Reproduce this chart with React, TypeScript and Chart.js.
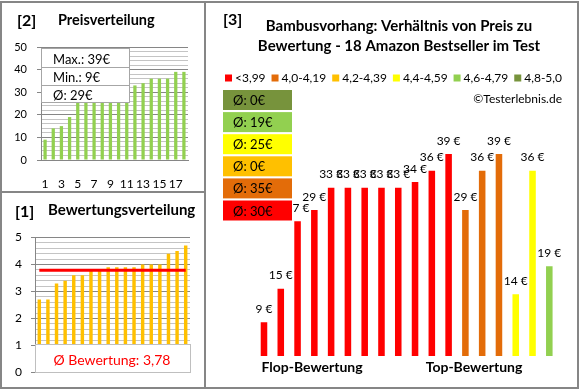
import React, { useEffect, useRef } from 'react';
import { Chart, registerables } from 'chart.js';

Chart.register(...registerables);

// ---------- data ----------
const productNumbers = ['1', '2', '3', '4', '5', '6', '7', '8', '9', '10', '11', '12', '13', '14', '15', '16', '17', '18'];
// ratings in ascending order (Flop -> Top)
const ratings = [2.7, 2.7, 3.3, 3.4, 3.6, 3.6, 3.8, 3.8, 3.9, 3.9, 3.9, 3.9, 4.0, 4.0, 4.0, 4.4, 4.5, 4.7];
// prices in the same order as ratings
const prices = [9, 15, 27, 29, 33, 33, 33, 33, 33, 34, 36, 39, 29, 36, 39, 14, 36, 19];
const priceTickLabels = [0, 10, 20, 30, 40, 50];
const ratingTickLabels = [0, 1, 2, 3, 4, 5];
const bandLabels = ['<3,99', '4,0-4,19', '4,2-4,39', '4,4-4,59', '4,6-4,79', '4,8-5,0'];
const bandUpper = [4.0, 4.2, 4.4, 4.6, 4.8, 5.01];
const bandColors = ['#FF0000', '#E36C09', '#FFC000', '#FFFF00', '#92D050', '#77933C'];
const mainTitle = ['Bambusvorhang: Verhältnis von Preis zu', 'Bewertung - 18 Amazon Bestseller im Test'];

// ---------- derived ----------
const FONT = 'Lato, "Open Sans", sans-serif';
const sortedPrices = [...prices].sort((a, b) => a - b);
const bandIndex = (r: number) => bandUpper.findIndex((u) => r < u - 1e-9);
const barColors = ratings.map((r) => bandColors[bandIndex(r)]);
const avgRating = ratings.reduce((a, b) => a + b, 0) / ratings.length;
const maxPrice = Math.max(...prices);
const minPrice = Math.min(...prices);
const avgPrice = Math.round(prices.reduce((a, b) => a + b, 0) / prices.length);
const bandAvg = bandLabels.map((_, b) => {
  const p = prices.filter((_, i) => bandIndex(ratings[i]) === b);
  return p.length ? Math.round(p.reduce((a, c) => a + c, 0) / p.length) : 0;
});

const MAJOR = '#868686';
const MINOR = '#c4c4c4';
const isInt = (v: number) => Math.abs(v - Math.round(v)) < 1e-6;

// ---------- plugins ----------
const pricePlugin = {
  id: 'priceDecor',
  afterDraw(chart: any) {
    const ctx = chart.ctx as CanvasRenderingContext2D;
    ctx.save();
    ctx.fillStyle = '#000';
    ctx.textBaseline = 'middle';
    ctx.textAlign = 'left';
    ctx.font = `bold 16px ${FONT}`;
    ctx.fillText('[2]', 17, 21);
    ctx.textBaseline = 'alphabetic';
    ctx.font = `bold 14.5px ${FONT}`;
    ctx.fillText('Preisverteilung', 58, 25);
    // stats box
    const x = 41.5, y = 48.5, w = 88, h = 54;
    ctx.fillStyle = '#fff';
    ctx.fillRect(x, y, w, h);
    ctx.strokeStyle = '#a6a6a6';
    ctx.lineWidth = 1;
    ctx.strokeRect(x, y, w, h);
    ctx.beginPath();
    ctx.moveTo(x, 67.5); ctx.lineTo(x + w, 67.5);
    ctx.moveTo(x, 85.5); ctx.lineTo(x + w, 85.5);
    ctx.stroke();
    ctx.fillStyle = '#000';
    ctx.font = `13px ${FONT}`;
    ctx.fillText(`Max.: ${maxPrice}€`, 53, 63.5);
    ctx.fillText(`Min.: ${minPrice}€`, 53, 82);
    ctx.fillText(`Ø: ${avgPrice}€`, 53, 99.5);
    ctx.restore();
  },
};

const ratingPlugin = {
  id: 'ratingDecor',
  afterDraw(chart: any) {
    const ctx = chart.ctx as CanvasRenderingContext2D;
    ctx.save();
    ctx.fillStyle = '#000';
    ctx.textBaseline = 'middle';
    ctx.textAlign = 'left';
    ctx.font = `bold 16px ${FONT}`;
    ctx.fillText('[1]', 15, 212);
    ctx.textBaseline = 'alphabetic';
    ctx.font = `bold 15px ${FONT}`;
    ctx.fillText('Bewertungsverteilung', 48, 215);
    // average box
    ctx.fillStyle = '#fff';
    ctx.fillRect(35.5, 344.5, 155, 28);
    ctx.strokeStyle = '#bfbfbf';
    ctx.lineWidth = 1;
    ctx.strokeRect(35.5, 344.5, 155, 28);
    ctx.fillStyle = '#FF0000';
    ctx.textAlign = 'center';
    ctx.font = `14px ${FONT}`;
    ctx.fillText(`Ø Bewertung: ${avgRating.toFixed(2).replace('.', ',')}`, 112, 365);
    ctx.restore();
  },
};

const mainPlugin = {
  id: 'mainDecor',
  afterDatasetsDraw(chart: any) {
    const ctx = chart.ctx as CanvasRenderingContext2D;
    const meta = chart.getDatasetMeta(0);
    ctx.save();
    ctx.fillStyle = '#000';
    ctx.font = `12px ${FONT}`;
    ctx.textAlign = 'center';
    ctx.textBaseline = 'alphabetic';
    meta.data.forEach((el: any, i: number) => {
      ctx.fillText(`${prices[i]} €`, el.x, el.y - 9.5);
    });
    ctx.restore();
  },
  afterDraw(chart: any) {
    const ctx = chart.ctx as CanvasRenderingContext2D;
    ctx.save();
    ctx.fillStyle = '#000';
    ctx.textAlign = 'left';
    ctx.textBaseline = 'middle';
    ctx.font = `bold 16px ${FONT}`;
    ctx.fillText('[3]', 223, 20);
    // title
    ctx.textBaseline = 'alphabetic';
    ctx.textAlign = 'center';
    ctx.font = `bold 15px ${FONT}`;
    ctx.fillText(mainTitle[0], 399, 30.5);
    ctx.fillText(mainTitle[1], 399, 50.5);
    // legend
    ctx.font = `12px ${FONT}`;
    ctx.textAlign = 'left';
    const sq = 7, gapSq = 3;
    const widths = bandLabels.map((l) => ctx.measureText(l).width);
    const total = widths.reduce((a, b) => a + b, 0) + bandLabels.length * (sq + gapSq);
    const startX = 225, endX = 562;
    const gap = (endX - startX - total) / (bandLabels.length - 1);
    let lx = startX;
    bandLabels.forEach((l, i) => {
      ctx.fillStyle = bandColors[i];
      ctx.fillRect(lx, 74.5, sq, sq);
      ctx.fillStyle = '#000';
      ctx.fillText(l, lx + sq + gapSq, 82);
      lx += sq + gapSq + widths[i] + gap;
    });
    // copyright
    ctx.textAlign = 'right';
    ctx.fillText('©Testerlebnis.de', 562, 102.5);
    // average boxes, best band on top
    ctx.textAlign = 'left';
    ctx.font = `13px ${FONT}`;
    for (let k = 0; k < bandLabels.length; k++) {
      const b = bandLabels.length - 1 - k;
      const top = 90 + k * 22.1;
      ctx.fillStyle = bandColors[b];
      ctx.fillRect(223, top, 69, 20);
      ctx.fillStyle = '#000';
      ctx.fillText(`Ø: ${bandAvg[b]}€`, 233, top + 15);
    }
    // bottom captions
    ctx.textAlign = 'center';
    ctx.font = `bold 14px ${FONT}`;
    ctx.fillText('Flop-Bewertung', 312, 371.5);
    ctx.fillText('Top-Bewertung', 474, 371.5);
    ctx.restore();
  },
};

// ---------- configs ----------
const tickFont = { family: FONT, size: 11 };

function priceConfig(): any {
  return {
    type: 'bar',
    data: {
      labels: productNumbers,
      datasets: [{ data: sortedPrices, backgroundColor: '#92D050', categoryPercentage: 1, barPercentage: 0.4 }],
    },
    options: {
      responsive: false,
      animation: false,
      events: [],
      layout: { padding: { left: 0, right: 392, top: 47, bottom: 190 } },
      plugins: { legend: { display: false }, tooltip: { enabled: false }, title: { display: false } },
      scales: {
        x: {
          grid: { display: false },
          border: { display: true, color: MAJOR },
          ticks: {
            autoSkip: false, maxRotation: 0, padding: 9, color: '#000', font: { family: FONT, size: 12 },
            callback: (_v: any, i: number) => (i % 2 === 0 ? productNumbers[i] : ''),
          },
          afterFit: (s: any) => { s.height = 40; },
        },
        y: {
          min: 0, max: 50,
          ticks: {
            stepSize: 2, autoSkip: false, padding: 10, color: '#000', font: tickFont,
            callback: (v: number) => (priceTickLabels.includes(v) ? String(v) : ''),
          },
          grid: {
            color: (c: any) => (c.tick && c.tick.value % 10 === 0 ? MAJOR : MINOR),
            tickColor: (c: any) => (c.tick && c.tick.value % 10 === 0 ? MAJOR : 'rgba(0,0,0,0)'),
            tickLength: 4,
          },
          border: { color: MAJOR },
          afterFit: (s: any) => { s.width = 41; },
        },
      },
    },
    plugins: [pricePlugin],
  };
}

function ratingConfig(): any {
  return {
    type: 'bar',
    data: {
      labels: productNumbers,
      datasets: [
        { type: 'line', data: ratings.map(() => avgRating), borderColor: '#FF0000', borderWidth: 3, pointRadius: 0, order: 0 },
        { type: 'bar', data: ratings, backgroundColor: '#FFC000', categoryPercentage: 1, barPercentage: 0.4, order: 1 },
      ],
    },
    options: {
      responsive: false,
      animation: false,
      events: [],
      layout: { padding: { left: 0, right: 390, top: 237.5, bottom: 17.5 } },
      plugins: { legend: { display: false }, tooltip: { enabled: false }, title: { display: false } },
      scales: {
        x: { display: false },
        y: {
          min: 0, max: 5,
          ticks: {
            stepSize: 0.2, autoSkip: false, padding: 9, color: '#000', font: { family: FONT, size: 12 },
            callback: (v: number) => (isInt(v) && ratingTickLabels.includes(Math.round(v)) ? String(Math.round(v)) : ''),
          },
          grid: {
            color: (c: any) => (c.tick && isInt(c.tick.value) ? MAJOR : MINOR),
            tickColor: (c: any) => (c.tick && isInt(c.tick.value) ? MAJOR : 'rgba(0,0,0,0)'),
            tickLength: 4,
          },
          border: { color: MAJOR },
          afterFit: (s: any) => { s.width = 35; },
        },
      },
    },
    plugins: [ratingPlugin],
  };
}

function mainConfig(): any {
  return {
    type: 'bar',
    data: {
      labels: productNumbers,
      datasets: [{ data: prices, backgroundColor: barColors, categoryPercentage: 1, barPercentage: 0.39 }],
    },
    options: {
      responsive: false,
      animation: false,
      events: [],
      layout: { padding: { left: 255.6, right: 22.3, top: 154, bottom: 34 } },
      plugins: { legend: { display: false }, tooltip: { enabled: false }, title: { display: false } },
      scales: {
        x: { display: false },
        y: { display: false, min: 3, max: 39 },
      },
    },
    plugins: [mainPlugin],
  };
}

export default function App() {
  const r1 = useRef<HTMLCanvasElement>(null);
  const r2 = useRef<HTMLCanvasElement>(null);
  const r3 = useRef<HTMLCanvasElement>(null);

  useEffect(() => {
    const charts = [
      new Chart(r1.current as HTMLCanvasElement, priceConfig()),
      new Chart(r2.current as HTMLCanvasElement, ratingConfig()),
      new Chart(r3.current as HTMLCanvasElement, mainConfig()),
    ];
    return () => charts.forEach((c) => c.destroy());
  }, []);

  const cv: React.CSSProperties = { position: 'absolute', left: 0, top: 0, width: 580, height: 390 };
  const panel = (left: number, top: number, width: number, height: number): React.CSSProperties => ({
    position: 'absolute', left, top, width, height, boxSizing: 'border-box', border: `2px solid ${MAJOR}`,
  });

  return (
    <div style={{ position: 'absolute', left: 0, top: 0, width: 580, height: 390, background: '#fff', overflow: 'hidden' }}>
      <div style={panel(0, 1, 206, 192)} />
      <div style={panel(0, 191, 206, 198)} />
      <div style={panel(204, 1, 375, 388)} />
      <canvas ref={r1} width={580} height={390} style={cv} />
      <canvas ref={r2} width={580} height={390} style={cv} />
      <canvas ref={r3} width={580} height={390} style={cv} />
    </div>
  );
}
